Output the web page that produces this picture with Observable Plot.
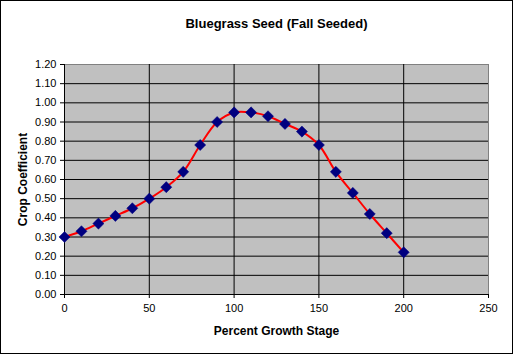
<!DOCTYPE html>
<html>
<head>
<meta charset="utf-8">
<script src="https://cdn.jsdelivr.net/npm/d3@7"></script>
<script src="https://cdn.jsdelivr.net/npm/@observablehq/plot@0.6"></script>
<style>
  html, body { margin: 0; padding: 0; background: #fff; }
  #chart { width: 513px; height: 354px; border: 1px solid #000; box-sizing: border-box; background: #fff; overflow: hidden; }
  #chart svg { display: block; }
</style>
</head>
<body>
<div id="chart"></div>
<script>
const title = "Bluegrass Seed (Fall Seeded)";
const xLabel = "Percent Growth Stage";
const yLabel = "Crop Coefficient";
const growthStage = [0, 10, 20, 30, 40, 50, 60, 70, 80, 90, 100, 110, 120, 130, 140, 150, 160, 170, 180, 190, 200];
const cropCoef = [0.30, 0.33, 0.37, 0.41, 0.45, 0.50, 0.56, 0.64, 0.78, 0.90, 0.95, 0.95, 0.93, 0.89, 0.85, 0.78, 0.64, 0.53, 0.42, 0.32, 0.22];
const xTicks = [0, 50, 100, 150, 200, 250];
const yTicks = [0.00, 0.10, 0.20, 0.30, 0.40, 0.50, 0.60, 0.70, 0.80, 0.90, 1.00, 1.10, 1.20];

const data = growthStage.map((x, i) => ({x, y: cropCoef[i]}));
const xGrid = xTicks.filter(v => v > 0 && v < 250);
const yGrid = yTicks.filter(v => v > 0 && v < 1.2);

const plot = Plot.plot({
  width: 511,
  height: 352,
  marginLeft: 63,
  marginRight: 24,
  marginTop: 63,
  marginBottom: 59,
  style: {fontFamily: "'Liberation Sans', Arial, sans-serif", fontSize: "11px", color: "#000", background: "#fff"},
  x: {domain: [0, 250]},
  y: {domain: [0, 1.2]},
  marks: [
    Plot.frame({fill: "#c0c0c0", stroke: "#808080"}),
    Plot.ruleY(yGrid, {stroke: "#000", strokeWidth: 1}),
    Plot.ruleX(xGrid, {stroke: "#000", strokeWidth: 1}),
    Plot.ruleY([0], {stroke: "#000"}),
    Plot.ruleX([0], {stroke: "#000"}),
    Plot.axisY({ticks: yTicks, tickFormat: d3.format(".2f"), tickSize: 4, tickPadding: 4, label: null, fill: "#000", stroke: "#000"}),
    Plot.axisX({ticks: xTicks, tickFormat: d => String(d), tickSize: 4, tickPadding: 6, label: null, fill: "#000", stroke: "#000"}),
    Plot.line(data, {x: "x", y: "y", stroke: "#ff0000", strokeWidth: 2, curve: "catmull-rom"}),
    Plot.dot(data, {x: "x", y: "y", symbol: "diamond2", r: 5, fill: "#000080", stroke: "#000080", strokeWidth: 0.5}),
    Plot.text([title], {frameAnchor: "top", lineAnchor: "middle", textAnchor: "middle", dy: -41, fontWeight: "bold", fontSize: 13, fill: "#000"}),
    Plot.text([xLabel], {frameAnchor: "bottom", lineAnchor: "middle", textAnchor: "middle", dy: 37, fontWeight: "bold", fontSize: 12, fill: "#000"}),
    Plot.text([yLabel], {frameAnchor: "left", lineAnchor: "middle", textAnchor: "middle", dx: -41, rotate: -90, fontWeight: "bold", fontSize: 12, fill: "#000"})
  ]
});
document.getElementById("chart").appendChild(plot);
</script>
</body>
</html>
